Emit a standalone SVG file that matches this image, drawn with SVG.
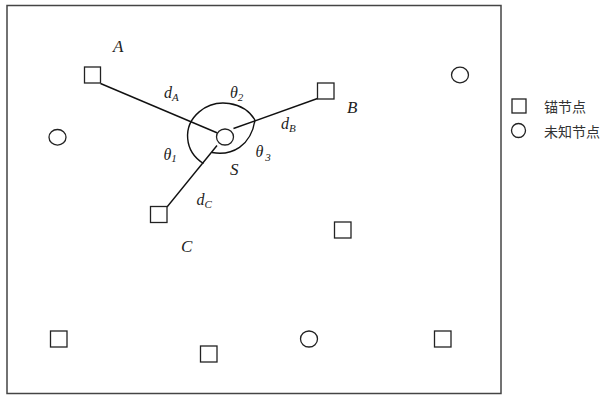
<svg xmlns="http://www.w3.org/2000/svg" width="611" height="395" viewBox="0 0 611 395">
<style>
.frame{fill:none;stroke:#444;stroke-width:1.5}
.anchor{fill:#fff;stroke:#222;stroke-width:1.3}
.unknown{fill:#fff;stroke:#222;stroke-width:1.3}
.ln{fill:none;stroke:#111;stroke-width:1.4}
.lbl{font-family:"Liberation Serif",serif;font-style:italic;font-size:17px;fill:#222}
.sm{font-family:"Liberation Serif",serif;font-style:italic;font-size:16px;fill:#222}
.sub{font-size:11px}
.leg{font-family:"Liberation Serif","Noto Sans CJK SC",serif;font-size:14px;fill:#333}
</style>
<rect class="frame" x="7" y="5.5" width="494" height="388"/>
<g id="connectors">
<line class="ln" x1="100.5" y1="83.5" x2="217.5" y2="133"/>
<line class="ln" x1="317.5" y1="98.5" x2="233.5" y2="128.5"/>
<line class="ln" x1="167" y1="207" x2="217" y2="145.5"/>
<path class="ln" d="M203.5,163.5 A36,33 0 1 1 255,120"/>
<path class="ln" d="M255,120 C251,146 232,156 212,152.5"/>
</g>
<g id="node-A"><rect class="anchor" x="84.5" y="67" width="16" height="16"/><text class="lbl" x="113" y="52">A</text></g>
<g id="node-B"><rect class="anchor" x="317.5" y="83" width="16.5" height="16"/><text class="lbl" x="347" y="113">B</text></g>
<g id="node-C"><rect class="anchor" x="150.5" y="206.5" width="16.5" height="16"/><text class="lbl" x="181" y="252">C</text></g>
<g id="node-S"><ellipse class="unknown" cx="225" cy="137" rx="8.5" ry="8"/><text class="lbl" x="230" y="175">S</text></g>
<g id="node-a1"><rect class="anchor" x="334.5" y="222" width="16.5" height="16"/></g>
<g id="node-a2"><rect class="anchor" x="50.5" y="331" width="16.5" height="16"/></g>
<g id="node-a3"><rect class="anchor" x="200.5" y="346" width="16.5" height="16"/></g>
<g id="node-a4"><rect class="anchor" x="434.5" y="331" width="16.5" height="16"/></g>
<g id="node-u1"><ellipse class="unknown" cx="57.5" cy="137.3" rx="8.5" ry="7.8"/></g>
<g id="node-u2"><ellipse class="unknown" cx="460" cy="75" rx="8.5" ry="7.8"/></g>
<g id="node-u3"><ellipse class="unknown" cx="309" cy="339" rx="8.5" ry="8"/></g>
<g id="labels">
<text class="sm" x="164" y="97.5">d<tspan class="sub" dy="3">A</tspan></text>
<text class="sm" x="230" y="97.5">θ<tspan class="sub" dy="3">2</tspan></text>
<text class="sm" x="281" y="128.5">d<tspan class="sub" dy="3">B</tspan></text>
<text class="sm" x="163.5" y="160">θ<tspan class="sub" dy="2">1</tspan></text>
<text class="sm" x="255.5" y="157">θ<tspan class="sub" dx="2" dy="4">3</tspan></text>
<text class="sm" x="196.5" y="205">d<tspan class="sub" dy="3">C</tspan></text>
</g>
<g id="legend">
<rect class="anchor" x="512" y="99" width="14" height="14"/>
<text class="leg" x="544" y="112">锚节点</text>
<circle class="unknown" cx="518.5" cy="130.5" r="7"/>
<text class="leg" x="544" y="137">未知节点</text>
</g>
</svg>
